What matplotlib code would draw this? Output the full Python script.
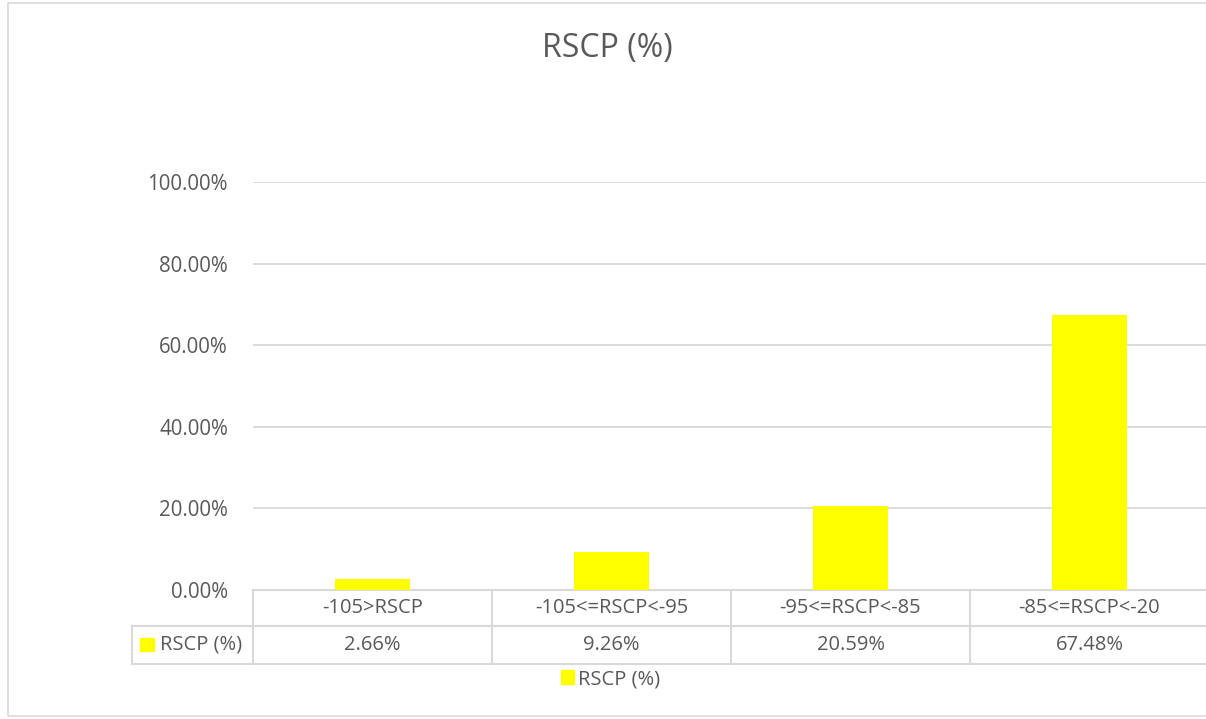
import matplotlib.pyplot as plt
from matplotlib.patches import Patch, Rectangle
from matplotlib.ticker import FuncFormatter
from matplotlib.transforms import blended_transform_factory

plt.rcParams['font.family'] = ['Open Sans', 'DejaVu Sans']

# RSCP distribution per signal range
categories = ['-105>RSCP', '-105<=RSCP<-95', '-95<=RSCP<-85', '-85<=RSCP<-20']
share = [0.0266, 0.0926, 0.2059, 0.6748]
series_name = 'RSCP (%)'

text_col = '#595959'
line_col = '#d9d9d9'
bar_col = '#ffff00'

W, H = 1206, 719
fig = plt.figure(figsize=(W / 100, H / 100), dpi=100)

# chart frame (runs off the right edge)
fig.patches.append(Rectangle((8 / W, 3 / H), 1.1, (716 - 3) / H,
                             transform=fig.transFigure, fill=False,
                             edgecolor=line_col, linewidth=1.2))

# plot area in pixels: x 253..1209, y 182..590
ax = fig.add_axes([253 / W, (H - 590) / H, (1209 - 253) / W, (590 - 182) / H])

x = list(range(len(categories)))
ax.bar(x, share, width=0.31, color=bar_col, zorder=3)

ax.set_xlim(-0.5, len(categories) - 0.5)
ax.set_ylim(0, 1)
ax.set_yticks([0, 0.2, 0.4, 0.6, 0.8, 1.0])
ax.yaxis.set_major_formatter(FuncFormatter(lambda v, _: f'{v * 100:.2f}%'))
ax.tick_params(axis='y', length=0, pad=18, labelsize=14.8, labelcolor=text_col)
ax.set_xticks([])
ax.grid(axis='y', color=line_col, linewidth=1.3, zorder=0)
for s in ax.spines.values():
    s.set_visible(False)

# data table under the axis
tr = blended_transform_factory(ax.transData, ax.transAxes)
y_top, y_mid, y_bot = 0.0, -0.088, -0.181
lo, hi = -0.5, len(categories) - 0.5
lab_left = -1.006
kw = dict(color=line_col, linewidth=1.5, transform=tr, clip_on=False)
ax.plot([lo, hi + 0.1], [y_top, y_top], **kw)
ax.plot([lab_left, hi + 0.1], [y_mid, y_mid], **kw)
ax.plot([lab_left, hi + 0.1], [y_bot, y_bot], **kw)
ax.plot([lab_left, lab_left], [y_mid, y_bot], **kw)
for b in [i - 0.5 for i in range(len(categories) + 1)]:
    ax.plot([b, b], [y_top, y_bot], **kw)

for i, (c, v) in enumerate(zip(categories, share)):
    ax.text(i, (y_top + y_mid) / 2, c, transform=tr, ha='center', va='center',
            fontsize=14.5, color=text_col)
    ax.text(i, (y_mid + y_bot) / 2, f'{v * 100:.2f}%', transform=tr,
            ha='center', va='center', fontsize=14.5, color=text_col)

# row header with legend key
ax.add_patch(Rectangle((lab_left + 0.035, (y_mid + y_bot) / 2 - 0.016), 0.058, 0.032,
                       transform=tr, color=bar_col, clip_on=False))
ax.text(lab_left + 0.115, (y_mid + y_bot) / 2, series_name, transform=tr,
        ha='left', va='center', fontsize=14.5, color=text_col)

fig.text(607 / W, 1 - 48 / H, 'RSCP (%)', ha='center', va='center',
         fontsize=23, color=text_col)

fig.legend(handles=[Patch(color=bar_col, label=series_name)], loc='center',
           bbox_to_anchor=(611 / W, 1 - 679 / H), frameon=False,
           fontsize=14.5, labelcolor=text_col, handlelength=0.65,
           handleheight=0.65, handletextpad=0.2)

fig.savefig('out.png', dpi=100)
